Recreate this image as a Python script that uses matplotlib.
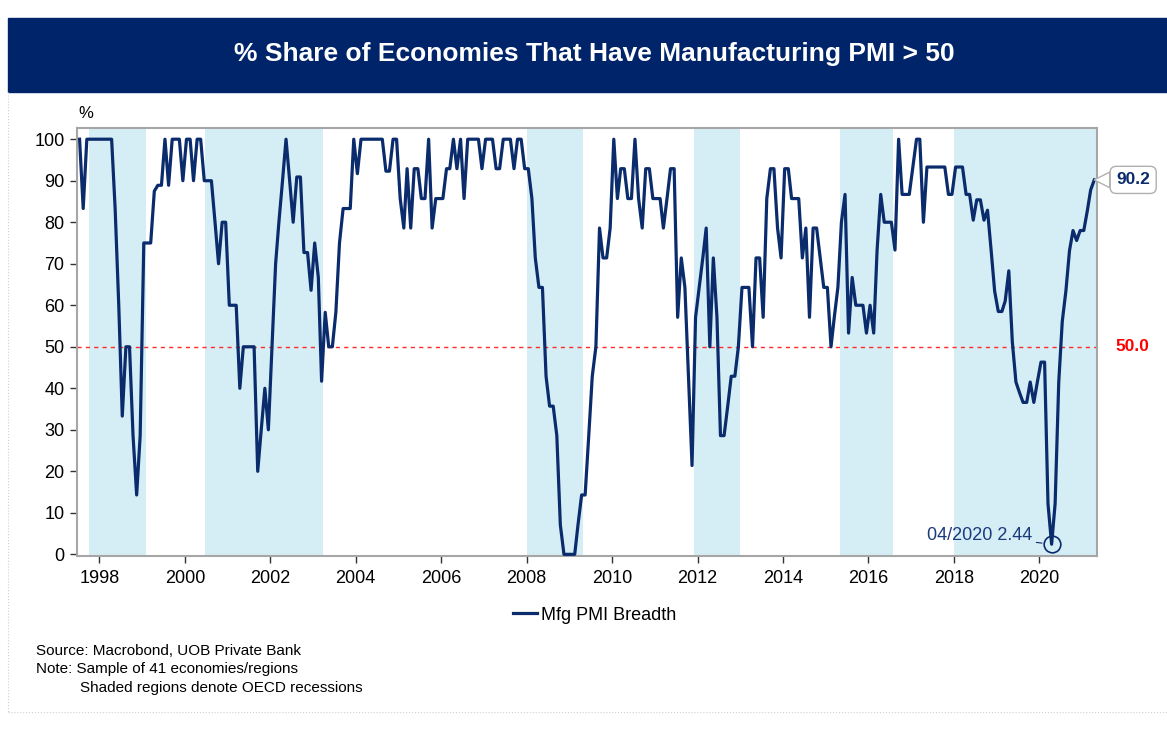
import matplotlib
matplotlib.use('Agg')
import matplotlib.pyplot as plt
import matplotlib.dates as mdates
from matplotlib.patches import Rectangle
from matplotlib.lines import Line2D
import pandas as pd

plt.rcParams['font.family'] = ['Liberation Sans', 'DejaVu Sans']

# monthly share (%) of economies with manufacturing PMI above 50, from Jul 1997
start_month = '1997-07-01'
breadth = [
    100, 83.3, 100, 100, 100, 100,                                    # 1997 H2
    100, 100, 100, 100, 83.3, 60, 33.3, 50, 50, 28.6, 14.3, 28.6,     # 1998
    75, 75, 75, 87.5, 88.9, 88.9, 100, 88.9, 100, 100, 100, 90,       # 1999
    100, 100, 90, 100, 100, 90, 90, 90, 80, 70, 80, 80,               # 2000
    60, 60, 60, 40, 50, 50, 50, 50, 20, 30, 40, 30,                   # 2001
    50, 70, 80, 90, 100, 90, 80, 90.9, 90.9, 72.7, 72.7, 63.6,        # 2002
    75, 66.7, 41.7, 58.3, 50, 50, 58.3, 75, 83.3, 83.3, 83.3, 100,    # 2003
    91.7, 100, 100, 100, 100, 100, 100, 100, 92.3, 92.3, 100, 100,    # 2004
    85.7, 78.6, 92.9, 78.6, 92.9, 92.9, 85.7, 85.7, 100, 78.6, 85.7, 85.7,   # 2005
    85.7, 92.9, 92.9, 100, 92.9, 100, 85.7, 100, 100, 100, 100, 92.9,        # 2006
    100, 100, 100, 92.9, 92.9, 100, 100, 100, 92.9, 100, 100, 92.9,          # 2007
    92.9, 85.7, 71.4, 64.3, 64.3, 42.9, 35.7, 35.7, 28.6, 7.1, 0, 0,         # 2008
    0, 0, 7.1, 14.3, 14.3, 28.6, 42.9, 50, 78.6, 71.4, 71.4, 78.6,           # 2009
    100, 85.7, 92.9, 92.9, 85.7, 85.7, 100, 85.7, 78.6, 92.9, 92.9, 85.7,    # 2010
    85.7, 85.7, 78.6, 85.7, 92.9, 92.9, 57.1, 71.4, 64.3, 42.9, 21.4, 57.1,  # 2011
    64.3, 71.4, 78.6, 50, 71.4, 57.1, 28.6, 28.6, 35.7, 42.9, 42.9, 50,      # 2012
    64.3, 64.3, 64.3, 50, 71.4, 71.4, 57.1, 85.7, 92.9, 92.9, 78.6, 71.4,    # 2013
    92.9, 92.9, 85.7, 85.7, 85.7, 71.4, 78.6, 57.1, 78.6, 78.6, 71.4, 64.3,  # 2014
    64.3, 50, 57.1, 64.3, 80, 86.7, 53.3, 66.7, 60, 60, 60, 53.3,            # 2015
    60, 53.3, 73.3, 86.7, 80, 80, 80, 73.3, 100, 86.7, 86.7, 86.7,           # 2016
    93.3, 100, 100, 80, 93.3, 93.3, 93.3, 93.3, 93.3, 93.3, 86.7, 86.7,      # 2017
    93.3, 93.3, 93.3, 86.7, 86.7, 80.5, 85.4, 85.4, 80.5, 82.9, 73.2, 63.4,  # 2018
    58.5, 58.5, 61.0, 68.3, 51.2, 41.5, 39.0, 36.6, 36.6, 41.5, 36.6, 41.5,  # 2019
    46.3, 46.3, 12.2, 2.44, 12.2, 41.5, 56.1, 63.4, 73.2, 78.0, 75.6, 78.0,  # 2020
    78.0, 82.9, 87.8, 90.2,                                                  # 2021
]

# OECD recession periods (shaded)
rec_start = ['1997-10-01', '2000-06-20', '2008-01-01', '2011-12-01', '2015-05-01', '2018-01-01']
rec_end = ['1999-02-01', '2003-03-25', '2009-05-01', '2013-01-01', '2016-08-01', '2021-06-01']

low_month = '2020-04'
low_label = '04/2020 2.44'
series_name = 'Mfg PMI Breadth'
title = '% Share of Economies That Have Manufacturing PMI > 50'
notes = ['Source: Macrobond, UOB Private Bank',
         'Note: Sample of 41 economies/regions',
         'Shaded regions denote OECD recessions']

NAVY = '#0A2B6C'
BANNER = '#00246A'
SHADE = '#D5EEF5'

dates = pd.date_range(start_month, periods=len(breadth), freq='MS') + pd.Timedelta(days=14)
W, H = 1167, 742

fig = plt.figure(figsize=(W / 100, H / 100), dpi=100)
ax = fig.add_axes([77 / W, 1 - 556 / H, 1020 / W, 428 / H])

# header banner and light frame
fig.add_artist(Rectangle((8 / W, 1 - 92 / H), 1159 / W, 74 / H,
                         transform=fig.transFigure, color=BANNER, zorder=0))
fig.text(594 / W, 1 - 54 / H, title, color='white', fontsize=19,
         fontweight='bold', ha='center', va='center')
fig.add_artist(Line2D([8 / W, 8 / W], [1 - 92 / H, 1 - 712 / H],
                      transform=fig.transFigure, color='#d0d0d0', lw=0.8, ls=':'))
fig.add_artist(Line2D([8 / W, 1], [1 - 712 / H, 1 - 712 / H],
                      transform=fig.transFigure, color='#d0d0d0', lw=0.8, ls=':'))

for s, e in zip(rec_start, rec_end):
    ax.axvspan(pd.Timestamp(s), pd.Timestamp(e), color=SHADE, lw=0, zorder=0)

ax.axhline(50, color='#FF2A2A', ls=(0, (3, 3)), lw=1.0, zorder=2)
ax.plot(dates, breadth, color=NAVY, lw=2.3, zorder=3, label=series_name)

ax.set_xlim(pd.Timestamp('1997-06-23'), pd.Timestamp('2021-05-08'))
ax.set_ylim(-0.4, 102.7)
ax.set_yticks(range(0, 101, 10))
ax.xaxis.set_major_locator(mdates.YearLocator(2))
ax.xaxis.set_major_formatter(mdates.DateFormatter('%Y'))

for sp in ax.spines.values():
    sp.set_color('#A6A6A6')
    sp.set_linewidth(1.5)
ax.tick_params(axis='both', length=5, width=1, color='#333333', labelsize=13,
               labelcolor='black')
ax.tick_params(axis='x', pad=5)
ax.tick_params(axis='y', pad=4)

fig.text(78 / W, 1 - 113 / H, '%', fontsize=12, ha='left', va='center')

# last value callout
ax.annotate(f'{breadth[-1]:.1f}', xy=(dates[-1], breadth[-1]), xytext=(28, 0),
            textcoords='offset points', ha='center', va='center', fontsize=12.5,
            fontweight='bold', color=NAVY, annotation_clip=False,
            bbox=dict(boxstyle='round,pad=0.35', fc='white', ec='#B0B0B0', lw=1),
            arrowprops=dict(arrowstyle='wedge,tail_width=0.9', fc='white',
                            ec='#B0B0B0', lw=1, shrinkA=0, shrinkB=0))

ax.text(1.035, 50, '50.0', transform=ax.get_yaxis_transform(), color='#FF0000',
        fontsize=12.5, fontweight='bold', ha='center', va='center')

# trough marker
i_low = list(dates.strftime('%Y-%m')).index(low_month)
ax.plot(dates[i_low], breadth[i_low], marker='o', ms=12, mfc='none', mec=NAVY,
        mew=1.2, zorder=4, clip_on=False)
ax.annotate(low_label, xy=(dates[i_low], breadth[i_low]), xytext=(-14, 6),
            textcoords='offset points', ha='right', va='center', fontsize=13,
            color='#1A3A7C', annotation_clip=False,
            arrowprops=dict(arrowstyle='-', color=NAVY, lw=0.8, shrinkA=1, shrinkB=7))

ax.legend(loc='center', bbox_to_anchor=(595 / W, 1 - 615 / H),
          bbox_transform=fig.transFigure, frameon=False, fontsize=13,
          handlelength=1.3, handletextpad=0.25)

for k, (txt, yy) in enumerate(zip(notes, [651, 669, 688])):
    fig.text((36 if k < 2 else 80) / W, 1 - yy / H, txt, fontsize=11,
             ha='left', va='center')

fig.savefig('out.png', dpi=100)
